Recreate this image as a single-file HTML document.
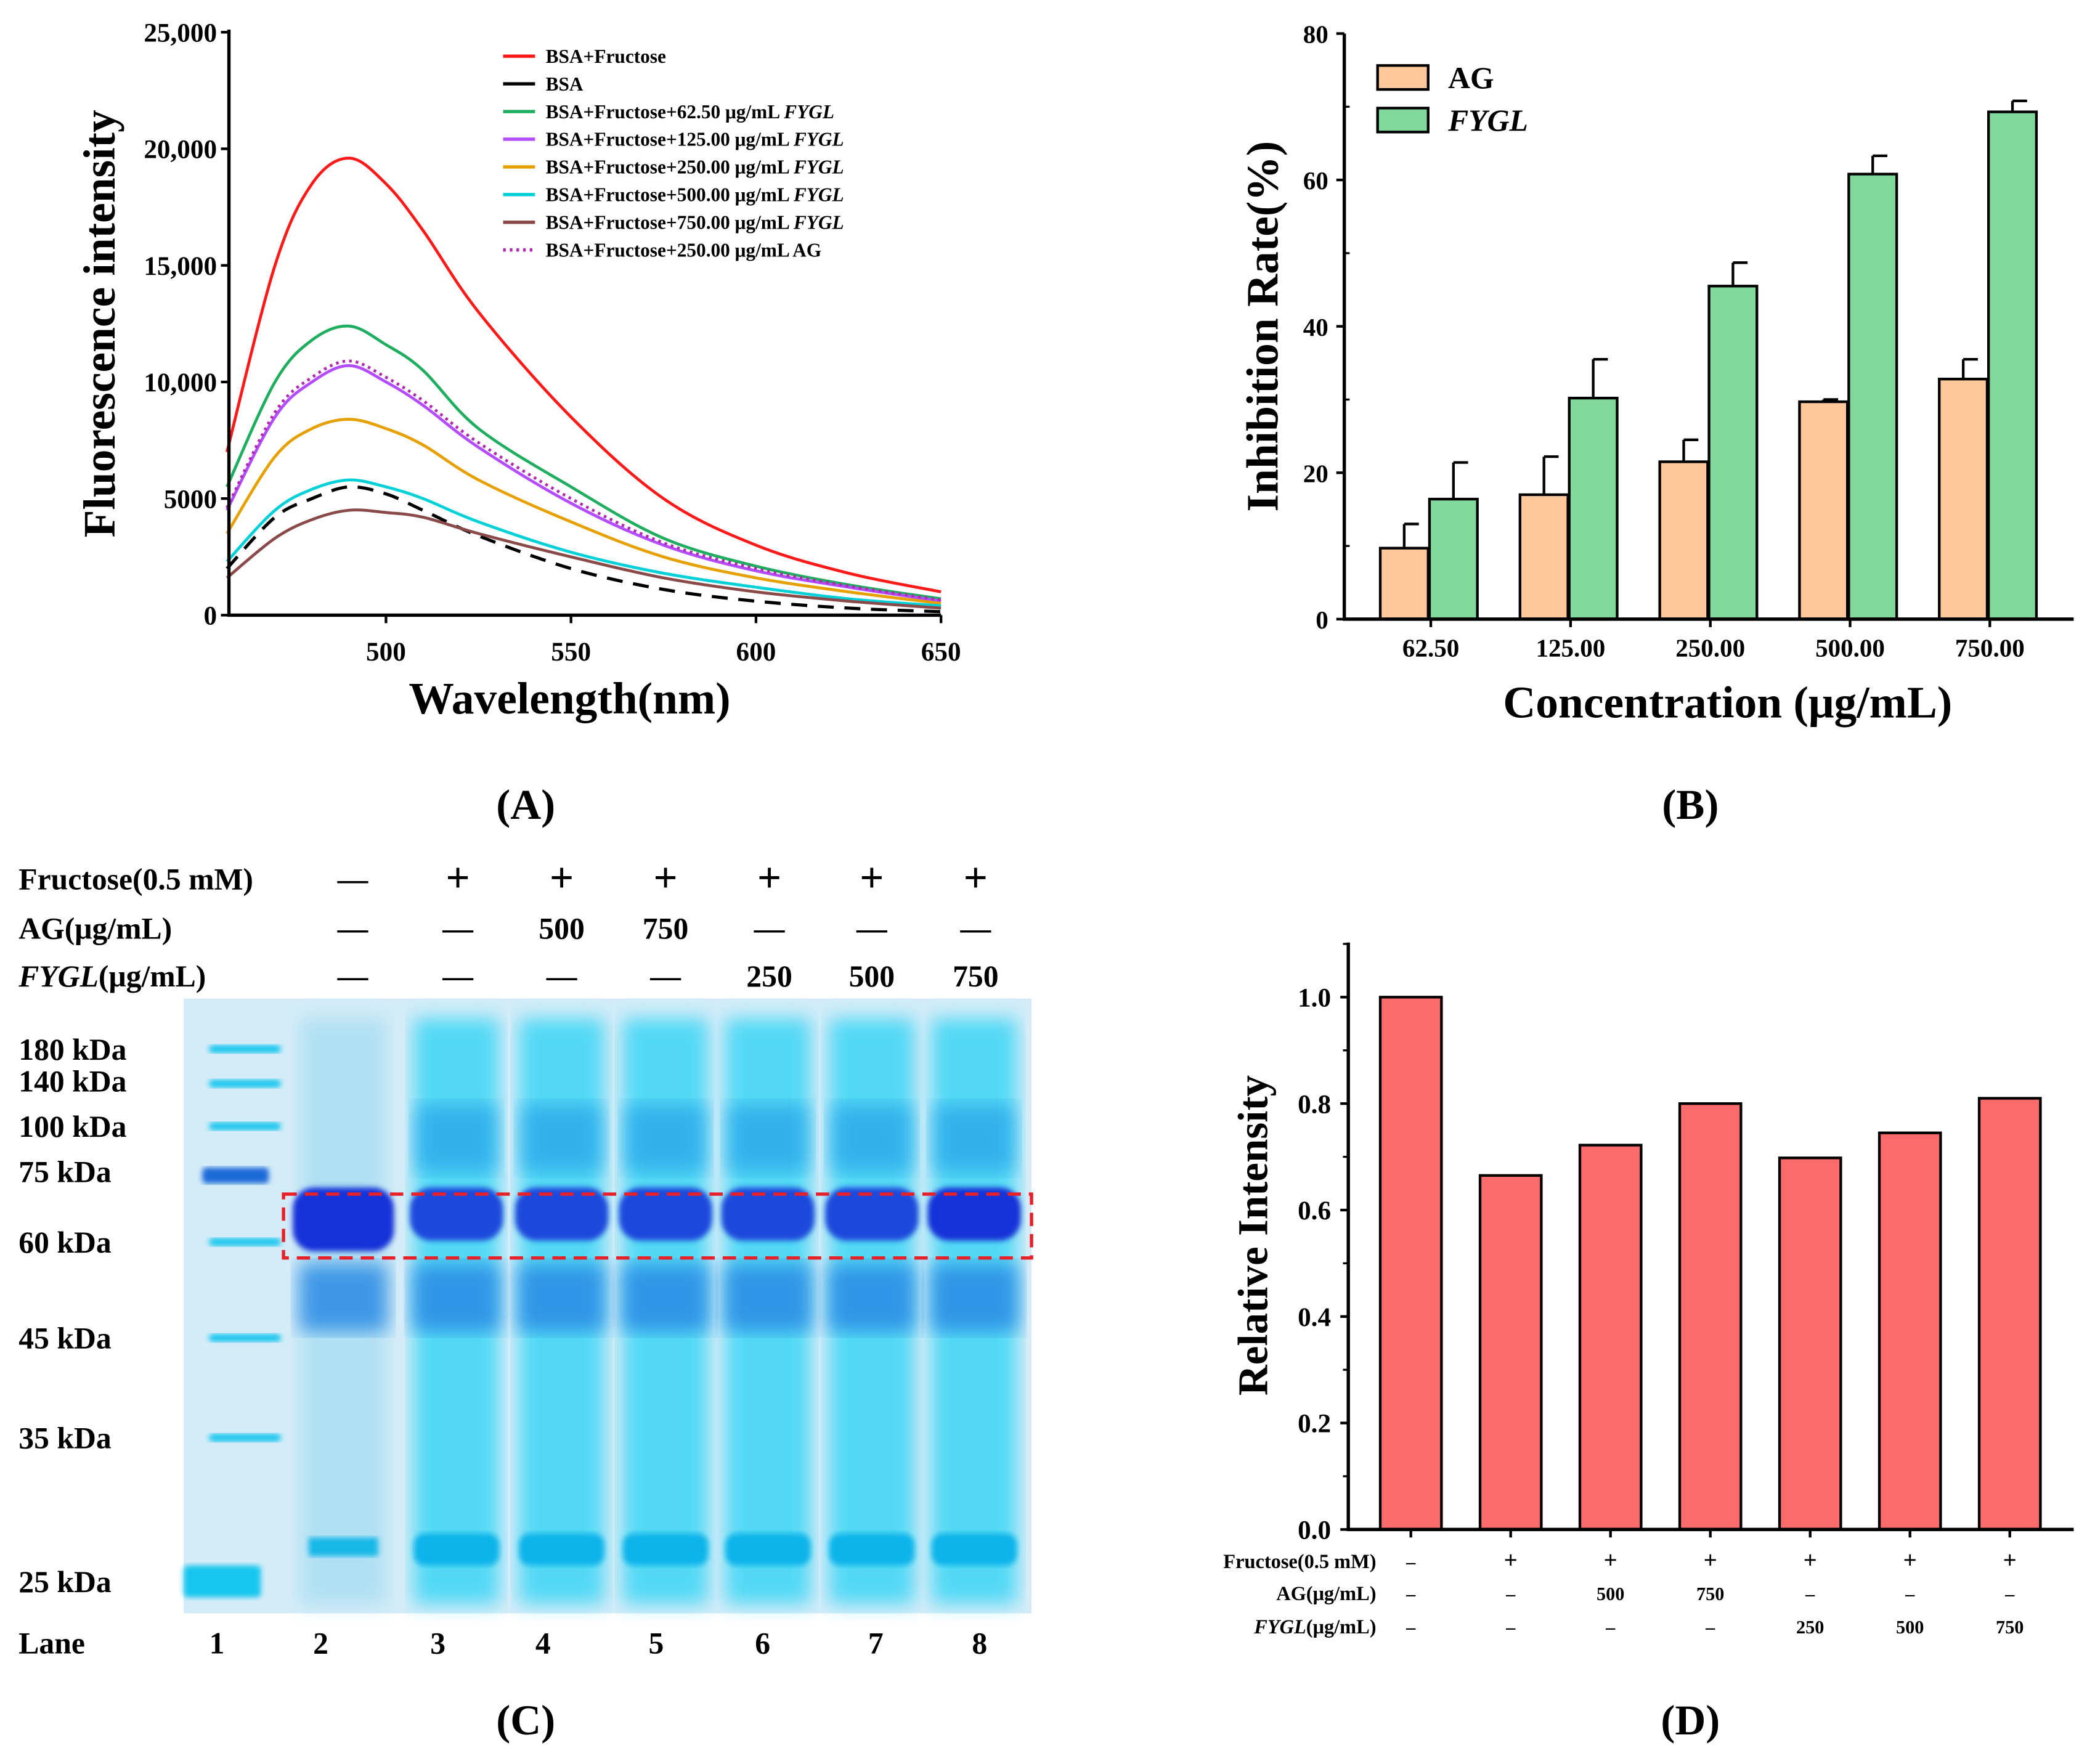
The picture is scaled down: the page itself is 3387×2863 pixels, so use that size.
<!DOCTYPE html>
<html><head><meta charset="utf-8"><style>
html,body{margin:0;padding:0;background:#fff}
svg{display:block}
text{font-family:"Liberation Serif",serif;font-weight:bold;fill:#000}
</style></head><body>
<svg id="fig" width="3387" height="2863" viewBox="0 0 1568 1325" xmlns="http://www.w3.org/2000/svg">
<defs>
<filter id="blur2"><feGaussianBlur stdDeviation="2"/></filter>
<filter id="blur4"><feGaussianBlur stdDeviation="4"/></filter>
<filter id="blur6"><feGaussianBlur stdDeviation="7"/></filter>
</defs>
<g id="pA"></g>
<g id="pB"></g>
<g id="pC"></g>
<g id="pD"></g>
</svg>
<script>
// ---------- Panel A data ----------
const wl = [457,470,480,490,500,510,525,550,575,600,625,650];
const sFru = [7000,15000,18500,19600,18500,16500,13000,8500,5000,3000,1800,1000];
const sBSA = [2000,4200,5000,5500,5200,4500,3400,2000,1100,600,300,150];
const s62 = [5500,10000,11800,12400,11600,10500,8000,5500,3300,2100,1300,700];
const s125 = [4500,8500,10000,10700,10000,9000,7200,4800,3000,1900,1200,600];
const s250 = [3500,6800,8000,8400,8000,7300,5800,4000,2500,1600,1000,500];
const s500 = [2300,4500,5400,5800,5500,5000,4000,2700,1800,1200,700,400];
const s750 = [1600,3300,4100,4500,4400,4200,3500,2500,1600,1000,600,300];
const sAG = [4600,8700,10200,10900,10200,9200,7400,5000,3100,2000,1250,650];
const aYTicks = [0,5000,10000,15000,20000,25000];
const aYLabels = ["0","5000","10,000","15,000","20,000","25,000"];
const aXTicks = [500,550,600,650];
const legA = ["BSA+Fructose","BSA","BSA+Fructose+62.50 μg/mL FYGL","BSA+Fructose+125.00 μg/mL FYGL","BSA+Fructose+250.00 μg/mL FYGL","BSA+Fructose+500.00 μg/mL FYGL","BSA+Fructose+750.00 μg/mL FYGL","BSA+Fructose+250.00 μg/mL AG"];
// ---------- Panel B data ----------
const bCats = ["62.50","125.00","250.00","500.00","750.00"];
const bAG = [9.7,17,21.5,29.7,32.8];
const bAGerr = [3.3,5.2,3,0.3,2.7];
const bFY = [16.4,30.2,45.5,60.8,69.3];
const bFYerr = [5,5.3,3.2,2.5,1.5];
const bYTicks = [0,20,40,60,80];
// ---------- Panel D data ----------
const dVals = [1.0,0.665,0.722,0.8,0.698,0.745,0.81];
const dFru = ["–","+","+","+","+","+","+"];
const dAG = ["–","–","500","750","–","–","–"];
const dFY = ["–","–","–","–","250","500","750"];
const dYTicks = [0,0.2,0.4,0.6,0.8,1.0];

const NS="http://www.w3.org/2000/svg";
function mk(p,tag,at,txt){const e=document.createElementNS(NS,tag);for(const k in at)e.setAttribute(k,at[k]);if(txt!==undefined)e.textContent=txt;p.appendChild(e);return e;}
function smooth(pts){
 let d='M'+pts[0][0].toFixed(1)+','+pts[0][1].toFixed(1);
 for(let i=0;i<pts.length-1;i++){
  const p0=pts[i-1]||pts[i],p1=pts[i],p2=pts[i+1],p3=pts[i+2]||p2;
  const c1=[p1[0]+(p2[0]-p0[0])/6,p1[1]+(p2[1]-p0[1])/6];
  const c2=[p2[0]-(p3[0]-p1[0])/6,p2[1]-(p3[1]-p1[1])/6];
  d+='C'+c1.map(v=>v.toFixed(1)).join(',')+' '+c2.map(v=>v.toFixed(1)).join(',')+' '+p2[0].toFixed(1)+','+p2[1].toFixed(1);
 }
 return d;
}

// ---------- Panel A ----------
(function(){
const g=document.getElementById('pA');
const x=v=>290+(v-500)*139/50, y=v=>462-v*438/25000;
const colors=['#ff1a1a','#000','#1fae5f','#b34dff','#e6a100','#00d0d8','#8b4a4a','#b02ab0'];
const series=[sFru,sBSA,s62,s125,s250,s500,s750,sAG];
series.forEach((s,i)=>{
 const d=smooth(s.map((v,j)=>[x(wl[j]),y(v)]));
 const p=mk(g,'path',{d,fill:'none',stroke:colors[i],'stroke-width':i==1?2.4:2.2,'stroke-linejoin':'round','stroke-dasharray':i==1?'12,8':(i==7?'2,3':'none')});
 
 
});
const ax=mk(g,'path',{d:'M172,22V462H707',fill:'none',stroke:'#000','stroke-width':2.5});

aYTicks.forEach((t,i)=>{mk(g,'line',{x1:166,x2:172,y1:y(t),y2:y(t),stroke:'#000','stroke-width':2});
 const tx=mk(g,'text',{x:163,y:y(t)+7,'text-anchor':'end','font-size':20},aYLabels[i]);
 });
aXTicks.forEach(t=>{mk(g,'line',{x1:x(t),x2:x(t),y1:462,y2:468,stroke:'#000','stroke-width':2});
 const tx=mk(g,'text',{x:x(t),y:496,'text-anchor':'middle','font-size':20},t);
 });
let t=mk(g,'text',{x:428,y:536,'text-anchor':'middle','font-size':34},'Wavelength(nm)');

t=mk(g,'text',{x:86,y:243,'text-anchor':'middle','font-size':34,transform:'rotate(-90 86 243)'},'Fluorescence intensity');

legA.forEach((l,i)=>{const yy=42+i*20.8;
 mk(g,'line',{x1:378,x2:402,y1:yy,y2:yy,stroke:colors[i],'stroke-width':2.5,'stroke-dasharray':i==7?'2,3':'none'});
 const tx=mk(g,'text',{x:410,y:yy+5,'font-size':14.5},l.replace(/ FYGL$/,' '));
 if(/FYGL$/.test(l)){mk(tx,'tspan',{'font-style':'italic'},'FYGL');}
 });
t=mk(g,'text',{x:395,y:615,'text-anchor':'middle','font-size':32,'font-weight':'normal'},'(A)');

})();

// ---------- Panel B ----------
(function(){
const g=document.getElementById('pB');
const y=v=>465-v*440/80, cx=i=>1075+i*105;
bCats.forEach((c,i)=>{
 [[bAG,bAGerr,'#ffc89b',-38],[bFY,bFYerr,'#80d89b',-1]].forEach(([v,e,col,off],k)=>{
  const x0=cx(i)+off, w=36;
  mk(g,'line',{x1:x0+w/2,x2:x0+w/2,y1:y(v[i]),y2:y(v[i]+e[i]),stroke:'#000','stroke-width':2});
  mk(g,'line',{x1:x0+w/2,x2:x0+w/2+11,y1:y(v[i]+e[i]),y2:y(v[i]+e[i]),stroke:'#000','stroke-width':2});
  const r=mk(g,'rect',{x:x0,y:y(v[i]),width:w,height:465-y(v[i]),fill:col,stroke:'#000','stroke-width':2});
  
 });
 mk(g,'line',{x1:cx(i),x2:cx(i),y1:465,y2:471,stroke:'#000','stroke-width':2});
 const tx=mk(g,'text',{x:cx(i),y:493,'text-anchor':'middle','font-size':19},c);
 
});
mk(g,'path',{d:'M1010,25V465H1558',fill:'none',stroke:'#000','stroke-width':2.5});
bYTicks.forEach(t=>{mk(g,'line',{x1:1004,x2:1010,y1:y(t),y2:y(t),stroke:'#000','stroke-width':2});
 if(t<80)mk(g,'line',{x1:1010,x2:1014,y1:y(t+10),y2:y(t+10),stroke:'#000','stroke-width':1.5});
 const tx=mk(g,'text',{x:998,y:y(t)+7,'text-anchor':'end','font-size':19},t);
 });
let t=mk(g,'text',{x:1298,y:539,'text-anchor':'middle','font-size':34},'Concentration (μg/mL)');

t=mk(g,'text',{x:960,y:245,'text-anchor':'middle','font-size':34,transform:'rotate(-90 960 245)'},'Inhibition Rate(%)');

[['AG','#ffc89b',58],['FYGL','#80d89b',90]].forEach(([l,c,yy])=>{
 mk(g,'rect',{x:1035,y:yy-9,width:38,height:18,fill:c,stroke:'#000','stroke-width':2});
 const tx=mk(g,'text',{x:1088,y:yy+8,'font-size':23,'font-style':l=='FYGL'?'italic':'normal'},l);
 });
t=mk(g,'text',{x:1270,y:615,'text-anchor':'middle','font-size':32,'font-weight':'normal'},'(B)');

})();

// ---------- Panel C (gel) ----------
(function(){
const g=document.getElementById('pC');
const rowsY=[660,697,733];
const lane=[265,344,422,500,578,655,733];
const rowT=[["—","+","+","+","+","+","+"],["—","—","500","750","—","—","—"],["—","—","—","—","250","500","750"]];
const rowL=["Fructose(0.5 mM)","AG(μg/mL)","FYGL(μg/mL)"];
rowL.forEach((l,r)=>{
 const tx=mk(g,'text',{x:14,y:rowsY[r]+8,'font-size':23});
 if(r==2){mk(tx,'tspan',{'font-style':'italic'},'FYGL');mk(tx,'tspan',{},'(μg/mL)');}else tx.textContent=l;
 
 rowT[r].forEach((v,i)=>{const t=mk(g,'text',{x:lane[i],y:rowsY[r]+(v=='+'?10:8),'text-anchor':'middle','font-size':v=='+'?32:23,'font-weight':v=='+'?'normal':'bold'},v);
  });
});
const bg=mk(g,'rect',{x:138,y:750,width:637,height:462,fill:'#d4ecf8'});

const mkY=[788,814,846,880,933,1005,1080,1188];
mkY.forEach((yy,i)=>{const m=mk(g,'rect',{x:i==7?138:(i==3?152:157),y:yy-(i==7?12:3),width:i==7?58:(i==3?50:54),height:i==7?24:(i==3?12:6),rx:3,fill:i==3?'#1e6ad8':'#19c6ee',filter:'url(#blur2)'});
 });
const laneX=[258,343,422,500,577,655,732];
laneX.forEach((cx,i)=>{
 const sm=mk(g,'rect',{x:cx-32,y:765,width:64,height:440,fill:i?'#33d4f4':'#acdff3',filter:'url(#blur6)',opacity:i?0.8:0.9});
 
 if(i){mk(g,'rect',{x:cx-30,y:830,width:60,height:50,fill:'#2aa8ea',filter:'url(#blur6)',opacity:0.8});
  mk(g,'rect',{x:cx-32,y:1152,width:64,height:24,rx:8,fill:'#0ab4ea',filter:'url(#blur2)'});
 } else {mk(g,'rect',{x:cx-26,y:1155,width:52,height:14,fill:'#17b8e8',filter:'url(#blur2)'});}
 mk(g,'rect',{x:cx-33,y:950,width:66,height:50,fill:'#2a8ae4',filter:'url(#blur6)',opacity:0.85});
 const b=mk(g,'rect',{x:cx-(i?35:38),y:892,width:i?70:76,height:i?40:48,rx:16,fill:i==0||i==6?'#1533d8':'#1f48dc',filter:'url(#blur2)'});
 
});
const box=mk(g,'rect',{x:213,y:897,width:562,height:48,fill:'none',stroke:'#e8202a','stroke-width':2.5,'stroke-dasharray':'10,6'});

const kda=["180 kDa","140 kDa","100 kDa","75 kDa","60 kDa","45 kDa","35 kDa","25 kDa"];
kda.forEach((k,i)=>{const t=mk(g,'text',{x:14,y:mkY[i]+(i==1?6:8),'font-size':23},k);
 });
let t=mk(g,'text',{x:14,y:1242,'font-size':23},'Lane');
[163,241,329,408,493,573,658,736].forEach((xx,i)=>{const tt=mk(g,'text',{x:xx,y:1242,'text-anchor':'middle','font-size':23},i+1);
 });
t=mk(g,'text',{x:395,y:1303,'text-anchor':'middle','font-size':32,'font-weight':'normal'},'(C)');

})();

// ---------- Panel D ----------
(function(){
const g=document.getElementById('pD');
const y=v=>1149-v*400, cx=i=>1060+i*75;
dVals.forEach((v,i)=>{
 const r=mk(g,'rect',{x:cx(i)-23,y:y(v),width:46,height:1149-y(v),fill:'#fb6b6b',stroke:'#000','stroke-width':2});
 
 [[dFru,1178],[dAG,1202],[dFY,1227]].forEach(([a,yy])=>{const t=mk(g,'text',{x:cx(i),y:yy,'text-anchor':'middle','font-size':a[i]=='+'?18:14,'font-weight':a[i].length>1?'bold':'normal'},a[i]);
  });
 mk(g,'line',{x1:cx(i),x2:cx(i),y1:1149,y2:1155,stroke:'#000','stroke-width':2});
});
mk(g,'path',{d:'M1013,708V1149H1558',fill:'none',stroke:'#000','stroke-width':2.5});
dYTicks.forEach(t=>{mk(g,'line',{x1:1007,x2:1013,y1:y(t),y2:y(t),stroke:'#000','stroke-width':2});
 mk(g,'line',{x1:1009,x2:1013,y1:y(t+0.1),y2:y(t+0.1),stroke:'#000','stroke-width':1.5});
 const tx=mk(g,'text',{x:1000,y:y(t)+7,'text-anchor':'end','font-size':20},t.toFixed(1));
 });
let t=mk(g,'text',{x:952,y:928,'text-anchor':'middle','font-size':32,transform:'rotate(-90 952 928)'},'Relative Intensity');

[['Fructose(0.5 mM)',1178],['AG(μg/mL)',1202],['FYGL(μg/mL)',1227]].forEach(([l,yy],i)=>{
 const tx=mk(g,'text',{x:1034,y:yy,'text-anchor':'end','font-size':15});
 if(i==2){mk(tx,'tspan',{'font-style':'italic'},'FYGL');mk(tx,'tspan',{},'(μg/mL)');}else tx.textContent=l;
 });
t=mk(g,'text',{x:1270,y:1303,'text-anchor':'middle','font-size':32,'font-weight':'normal'},'(D)');

})();
</script>
</body></html>
